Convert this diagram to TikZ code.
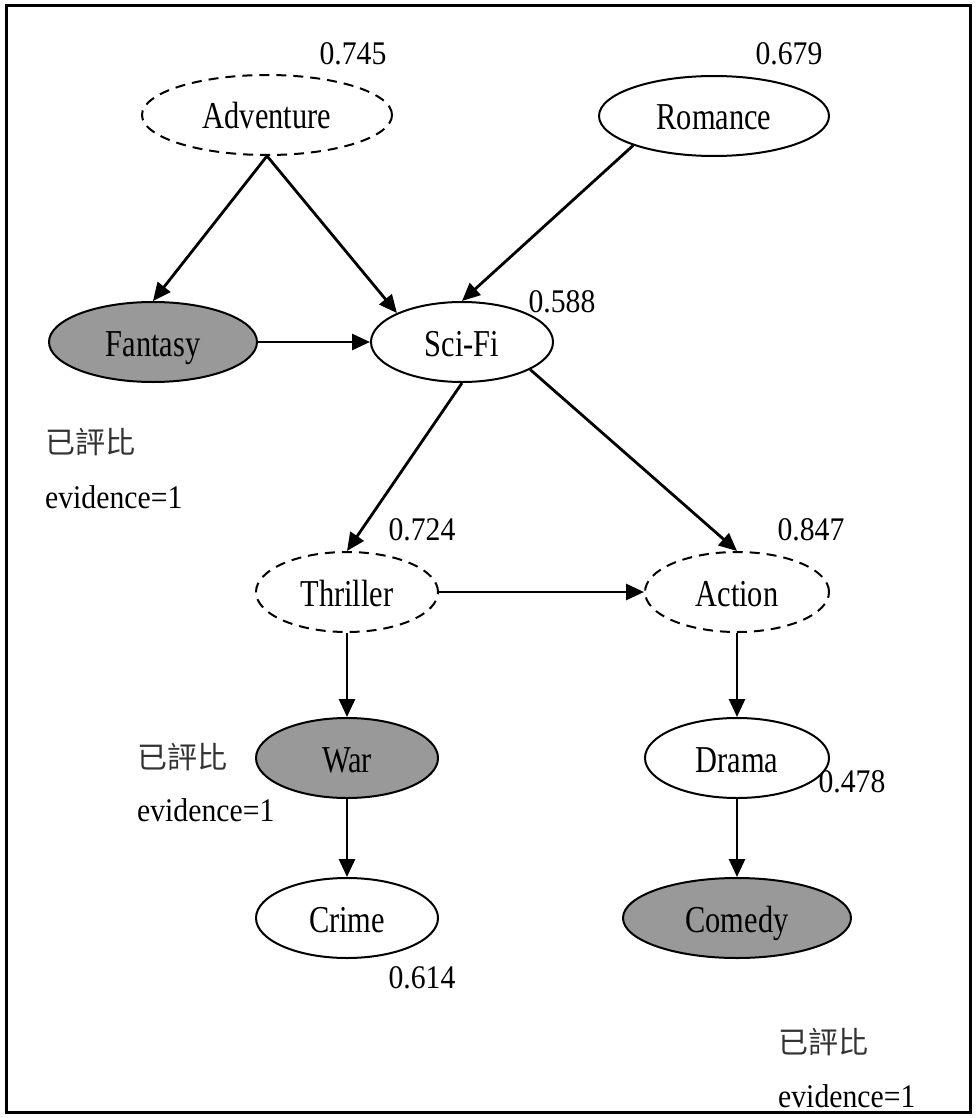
\documentclass[tikz,border=0pt]{standalone}
\usepackage{fontspec}
\setmainfont[FakeStretch=0.9]{Liberation Serif}
\newfontfamily\labelfont[FakeStretch=0.8]{Liberation Serif}
\newfontfamily\cjkfont{Noto Sans CJK TC}
\usetikzlibrary{shapes.geometric,arrows.meta}
\definecolor{obsgray}{RGB}{153,153,153}
\begin{document}
\begin{tikzpicture}[x=1pt,y=-1pt,
  every node/.style={font=\fontsize{33}{38}\selectfont},
  var/.style={ellipse,draw,line width=2pt,inner sep=0pt,minimum height=80pt,
    font=\labelfont\fontsize{38}{44}\selectfont,text height=28pt,text depth=0pt},
  hidden/.style={var,dash pattern=on 10pt off 7pt},
  observed/.style={var,fill=obsgray},
  prob/.style={inner sep=0pt},
  note/.style={inner sep=0pt,anchor=west},
  edge/.style={line width=2.8pt,-{Triangle[length=18pt,width=16pt]}}]
\useasboundingbox (0,0) rectangle (976,1118);
\draw[line width=3pt] (6,6) rectangle (970,1112);

% genre variables
\node[hidden,minimum width=250pt] (adv) at (267,115) {Adventure};
\node[var,minimum width=230pt] (rom) at (714,116) {Romance};
\node[observed,minimum width=208pt] (fan) at (153,342) {Fantasy};
\node[var,minimum width=182pt] (sci) at (462,342) {Sci-Fi};
\node[hidden,minimum width=182pt] (thr) at (347,592) {Thriller};
\node[hidden,minimum width=184pt] (act) at (737,592) {Action};
\node[observed,minimum width=182pt] (war) at (347,758) {War};
\node[var,minimum width=184pt] (dra) at (737,758) {Drama};
\node[var,minimum width=182pt] (cri) at (347,918) {Crime};
\node[observed,minimum width=228pt] (com) at (737,918) {Comedy};

% probabilities
\node[prob] (padv) at (353,54) {0.745};
\node[prob] (prom) at (789,54) {0.679};
\node[prob] (psci) at (562,302) {0.588};
\node[prob] (pthr) at (422,530) {0.724};
\node[prob] (pact) at (811,530) {0.847};
\node[prob] (pdra) at (852,782) {0.478};
\node[prob] (pcri) at (422,978) {0.614};

% evidence notes
\node[note] (nfan1) at (45,442) {\cjkfont\fontsize{30}{36}\selectfont\color{black!80}已評比};
\node[note] (nfan2) at (45,497) {evidence=1};
\node[note] (nwar1) at (137,757) {\cjkfont\fontsize{30}{36}\selectfont\color{black!80}已評比};
\node[note] (nwar2) at (137,810) {evidence=1};
\node[note] (ncom1) at (778,1042) {\cjkfont\fontsize{30}{36}\selectfont\color{black!80}已評比};
\node[note] (ncom2) at (778,1096) {evidence=1};

% dependencies
\draw[edge] (adv.south) -- (fan.north);
\draw[edge] (adv.south) -- (sci.156);
\draw[edge] (rom.200) -- (sci.north);
\draw[edge] (fan.east) -- (sci.west);
\draw[edge] (sci.south) -- (thr.north);
\draw[edge] (sci.-22) -- (act.north);
\draw[edge] (thr.east) -- (act.west);
\draw[edge] (thr.south) -- (war.north);
\draw[edge] (war.south) -- (cri.north);
\draw[edge] (act.south) -- (dra.north);
\draw[edge] (dra.south) -- (com.north);
\end{tikzpicture}
\end{document}
